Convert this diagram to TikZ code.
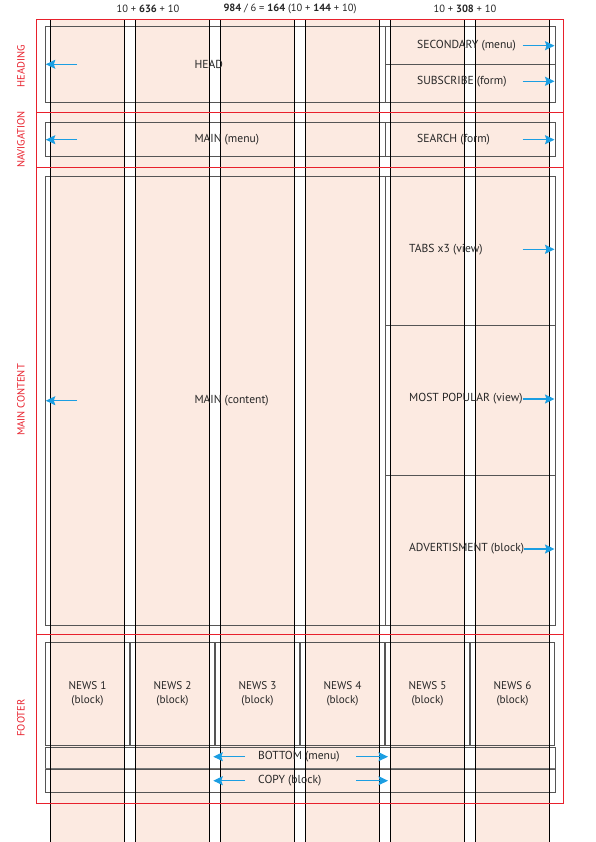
\documentclass[tikz,border=0pt]{standalone}
\usepackage{fontspec}
\setmainfont{PT Sans}
\usetikzlibrary{arrows.meta}
\definecolor{colfill}{RGB}{252,234,225}
\definecolor{gridred}{RGB}{232,32,44}
\definecolor{arrblue}{RGB}{27,158,226}
\definecolor{boxgray}{RGB}{85,85,85}
\tikzset{
  colline/.style={black, line width=0.7pt},
  boxline/.style={boxgray, line width=0.9pt},
  redline/.style={gridred, line width=0.9pt},
  lbl/.style={font=\fontsize{11.6}{13}\selectfont, inner sep=0pt, anchor=west, text=black!85},
  clbl/.style={font=\fontsize{11.2}{14}\selectfont, inner sep=0pt, align=center, text=black!85},
  toplbl/.style={font=\fontsize{10.5}{12}\selectfont, inner sep=0pt, text=black!85},
  seclbl/.style={font=\fontsize{10.5}{12}\selectfont, inner sep=0pt, text=gridred, rotate=90},
  marker/.style={arrblue, line width=1.1pt, -{Stealth[length=9.5pt,width=9pt,inset=1.5pt]}},
}
\begin{document}
\begin{tikzpicture}[x=1pt, y=-1pt]
\useasboundingbox (0,0) rectangle (595,842);
% columns
\foreach \i in {0,...,5} {
  \fill[colfill] ({50+85*\i},19.5) rectangle ({124.5+85*\i},842);
}
% boxes
\draw[boxline] (45,26) rectangle (385,102.3);
\draw[boxline] (385,26) rectangle (555,102.3);
\draw[boxline] (385,64.3) -- (555,64.3);
\draw[boxline] (45,122.7) rectangle (385,156.7);
\draw[boxline] (385,122.7) rectangle (555,156.7);
\draw[boxline] (45,176) rectangle (385,625.7);
\draw[boxline] (385,176) rectangle (555,625.7);
\draw[boxline] (385,325.7) -- (555,325.7);
\draw[boxline] (385,475.3) -- (555,475.3);
\foreach \k in {0,...,5} {
  \draw[boxline] ({45.5+85*\k},642.3) rectangle ({129.5+85*\k},745.5);
}
\draw[boxline] (45,747) rectangle (555,769);
\draw[boxgray!80, line width=1.4pt] (45,769) -- (555,769);
\draw[boxline] (45,769) rectangle (555,792.3);
% column lines
\foreach \i in {0,...,5} {
  \draw[colline] ({50+85*\i},19.5) -- ({50+85*\i},842);
  \draw[colline] ({124.5+85*\i},19.5) -- ({124.5+85*\i},842);
}
% red section frame
\draw[redline] (36.3,19.3) rectangle (563.7,803);
\draw[redline] (36.3,112.7) -- (563.7,112.7);
\draw[redline] (36.3,167.3) -- (563.7,167.3);
\draw[redline] (36.3,634) -- (563.7,634);
% section labels
\node[seclbl] (heading) at (21,66) {HEADING};
\node[seclbl] (navigation) at (21,139.5) {NAVIGATION};
\node[seclbl] (maincontent) at (21,400) {MAIN CONTENT};
\node[seclbl] (footer) at (21,718) {FOOTER};
% top labels
\node[toplbl] (t1) at (148,9) {10 + \textbf{636} + 10};
\node[toplbl] (t2) at (290,9) {\textbf{984} / 6 = \textbf{164} (10 + \textbf{144} + 10)};
\node[toplbl] (t3) at (465,9) {10 + \textbf{308} + 10};
% module labels
\node[lbl] (head) at (194.3,64.3) {HEAD};
\node[lbl] (mainmenu) at (194.3,139.7) {MAIN (menu)};
\node[lbl] (maincont) at (194.3,400.7) {MAIN (content)};
\node[lbl] (secondary) at (417,45.7) {SECONDARY (menu)};
\node[lbl] (subscribe) at (417,81.3) {SUBSCRIBE (form)};
\node[lbl] (search) at (417,139.7) {SEARCH (form)};
\node[lbl] (tabs) at (409,249.3) {TABS x3 (view)};
\node[lbl] (popular) at (409,399) {MOST POPULAR (view)};
\node[lbl] (advert) at (409,549) {ADVERTISMENT (block)};
\node[lbl] (bottom) at (258,756.7) {BOTTOM (menu)};
\node[lbl] (copy) at (258,780.7) {COPY (block)};
\foreach \k in {1,...,6} {
  \node[clbl] (news\k) at ({2.5+85*\k},693.3) {NEWS \k\\(block)};
}
% arrow coordinates
\coordinate (hL1) at (77,64.3);   \coordinate (hL2) at (45.8,64.3);
\coordinate (nL1) at (77,139.7);  \coordinate (nL2) at (45.8,139.7);
\coordinate (mL1) at (77,400.7);  \coordinate (mL2) at (45.8,400.7);
\coordinate (sR1) at (522.7,45.7);  \coordinate (sR2) at (554.5,45.7);
\coordinate (uR1) at (522.7,81.3);  \coordinate (uR2) at (554.5,81.3);
\coordinate (eR1) at (522.7,139.7); \coordinate (eR2) at (554.5,139.7);
\coordinate (tR1) at (522.7,249.3); \coordinate (tR2) at (554.5,249.3);
\coordinate (pR1) at (522.7,399);   \coordinate (pR2) at (554.5,399);
\coordinate (aR1) at (524,549);     \coordinate (aR2) at (554.5,549);
\coordinate (bL1) at (245,756.7); \coordinate (bL2) at (213.3,756.7);
\coordinate (bR1) at (356,756.7); \coordinate (bR2) at (388,756.7);
\coordinate (cL1) at (245,780.7); \coordinate (cL2) at (213.3,780.7);
\coordinate (cR1) at (356,780.7); \coordinate (cR2) at (388,780.7);
\foreach \a in {hL,nL,mL,sR,uR,eR,tR,pR,aR,bL,bR,cL,cR} {
  \draw[marker] (\a1) -- (\a2);
}
\end{tikzpicture}
\end{document}
